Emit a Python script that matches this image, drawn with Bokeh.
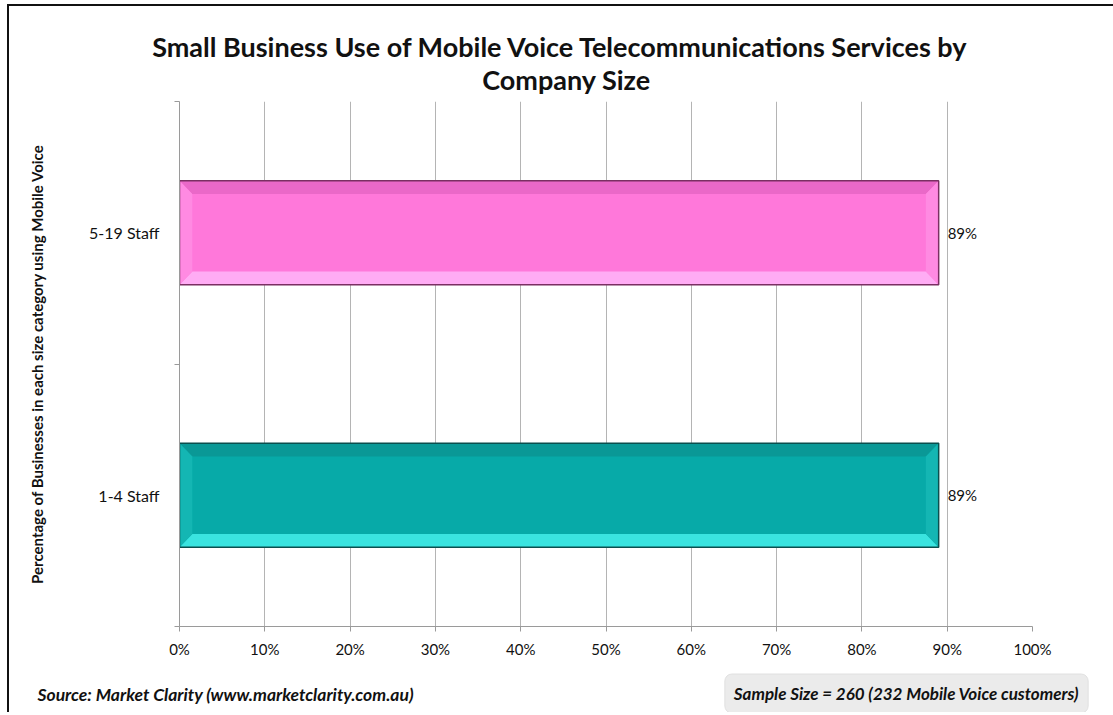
from bokeh.plotting import figure
from bokeh.models import FixedTicker, Label, ColumnDataSource
from bokeh.layouts import column
from bokeh.embed import file_html
from bokeh.resources import INLINE

# ---- data ----
categories = ["1-4 Staff", "5-19 Staff"]
values = [89, 89]
cat_pos = [0.5, 1.5]
bar_main = ["#07aaa8", "#ff78da"]
bar_top = ["#0a9896", "#ea68c8"]
bar_bottom = ["#3ae4e0", "#ffacf4"]
bar_side = ["#14b6b3", "#ff8ae2"]
bar_edge = ["#0a4f4e", "#7a2f62"]
x_ticks = [0, 10, 20, 30, 40, 50, 60, 70, 80, 90, 100]
x_tick_labels = ["0%", "10%", "20%", "30%", "40%", "50%", "60%", "70%", "80%", "90%", "100%"]
title_lines = ["Small Business Use of Mobile Voice Telecommunications Services by", "Company Size"]
y_title = "Percentage of Businesses in each size category using Mobile Voice"
source_text = "Source: Market Clarity (www.marketclarity.com.au)"
sample_text = "Sample Size = 260 (232 Mobile Voice customers)"

FONT = "Lato"
W = 1104
HH, HM, HF = 95, 561, 50
L, R, T, B = 170, 81, 0, 36


def blank(height):
    f = figure(width=W, height=height, x_range=(0, W), y_range=(0, height),
               output_backend="svg", toolbar_location=None,
               x_axis_location=None, y_axis_location=None,
               min_border=0, frame_align=False)
    f.outline_line_color = None
    f.xgrid.grid_line_color = None
    f.ygrid.grid_line_color = None
    f.background_fill_color = "white"
    f.border_fill_color = "white"
    return f


# ---- header with two-line title ----
header = blank(HH)
header.add_layout(Label(x=551, y=55, text=title_lines[0], text_align="center", text_baseline="middle",
                        text_font=FONT, text_font_style="bold", text_font_size="27px",
                        text_color="#111111"))
header.add_layout(Label(x=557, y=22, text=title_lines[1], text_align="center", text_baseline="middle",
                        text_font=FONT, text_font_style="bold", text_font_size="27px",
                        text_color="#111111"))

# ---- main chart ----
p = figure(width=W, height=HM, x_range=(0, 100), y_range=(0, 2),
           output_backend="svg", toolbar_location=None, frame_align=False,
           min_border_left=L, min_border_right=R, min_border_top=T, min_border_bottom=B)
p.outline_line_color = None
p.background_fill_color = "white"
p.border_fill_color = "white"

p.ygrid.grid_line_color = None
p.xgrid.ticker = FixedTicker(ticks=x_ticks)
p.xgrid.grid_line_color = "#b4b4b4"
p.xgrid.grid_line_width = 1

xa = p.xaxis[0]
xa.ticker = FixedTicker(ticks=x_ticks)
xa.major_label_overrides = {t: s for t, s in zip(x_ticks, x_tick_labels)}
xa.axis_line_color = "#9a9a9a"
xa.major_tick_line_color = "#9a9a9a"
xa.major_tick_out = 5
xa.major_tick_in = 0
xa.minor_tick_line_color = None
xa.major_label_text_font = FONT
xa.major_label_text_font_size = "15px"
xa.major_label_text_color = "#111111"
xa.major_label_standoff = 8

ya = p.yaxis[0]
ya.ticker = FixedTicker(ticks=cat_pos, minor_ticks=[0, 1, 2])
ya.major_label_overrides = {c: s for c, s in zip(cat_pos, categories)}
ya.axis_line_color = "#9a9a9a"
ya.major_tick_line_color = None
ya.minor_tick_line_color = "#9a9a9a"
ya.minor_tick_out = 5
ya.minor_tick_in = 0
ya.major_label_text_font = FONT
ya.major_label_text_font_size = "16px"
ya.major_label_text_color = "#111111"
ya.major_label_standoff = 14
ya.axis_label = y_title
ya.axis_label_text_font = FONT
ya.axis_label_text_font_style = "bold"
ya.axis_label_text_font_size = "15px"
ya.axis_label_text_color = "#111111"
ya.axis_label_standoff = 40

h = 0.198
bx, by = 1.5, 0.05
src = ColumnDataSource(dict(y=cat_pos, right=values, color=bar_main, edge=bar_edge))
p.hbar(y="y", left=0, right="right", height=2 * h, fill_color="color", line_color=None, source=src)

xs, ys, cs = [], [], []
for v, c, ct, cb, cside in zip(values, cat_pos, bar_top, bar_bottom, bar_side):
    x0, x1, y0, y1 = 0, v, c - h, c + h
    xs += [[x0, x1, x1 - bx, x0 + bx], [x0, x1, x1 - bx, x0 + bx],
           [x0, x0, x0 + bx, x0 + bx], [x1, x1, x1 - bx, x1 - bx]]
    ys += [[y1, y1, y1 - by, y1 - by], [y0, y0, y0 + by, y0 + by],
           [y0, y1, y1 - by, y0 + by], [y0, y1, y1 - by, y0 + by]]
    cs += [ct, cb, cside, cside]
p.patches(xs=xs, ys=ys, fill_color=cs, line_color=None)
p.hbar(y="y", left=0, right="right", height=2 * h, fill_color=None, line_color="edge",
       line_width=1.5, source=src)

p.text(x=values, y=cat_pos, text=[f"{v}%" for v in values], x_offset=9,
       text_baseline="middle", text_align="left", text_font_size="15px",
       text_color="#111111", text_font={"value": FONT})

# ---- footer ----
footer = blank(HF)
footer.add_layout(Label(x=28, y=18, text=source_text, text_align="left", text_baseline="middle",
                        text_font=FONT, text_font_style="bold italic", text_font_size="17.5px",
                        text_color="#111111"))
footer.add_layout(Label(x=897, y=19, text=sample_text, text_align="center", text_baseline="middle",
                        text_font=FONT, text_font_style="bold italic", text_font_size="17px",
                        text_color="#111111", background_fill_color="#ebebeb",
                        border_line_color="#e0e0e0", padding=9, border_radius=7))

lay = column(header, p, footer,
             styles={"border-left": "2px solid #111111", "border-top": "2px solid #111111",
                     "margin-left": "7px", "margin-top": "4px"})

open("out.html", "w").write(file_html(lay, INLINE))
